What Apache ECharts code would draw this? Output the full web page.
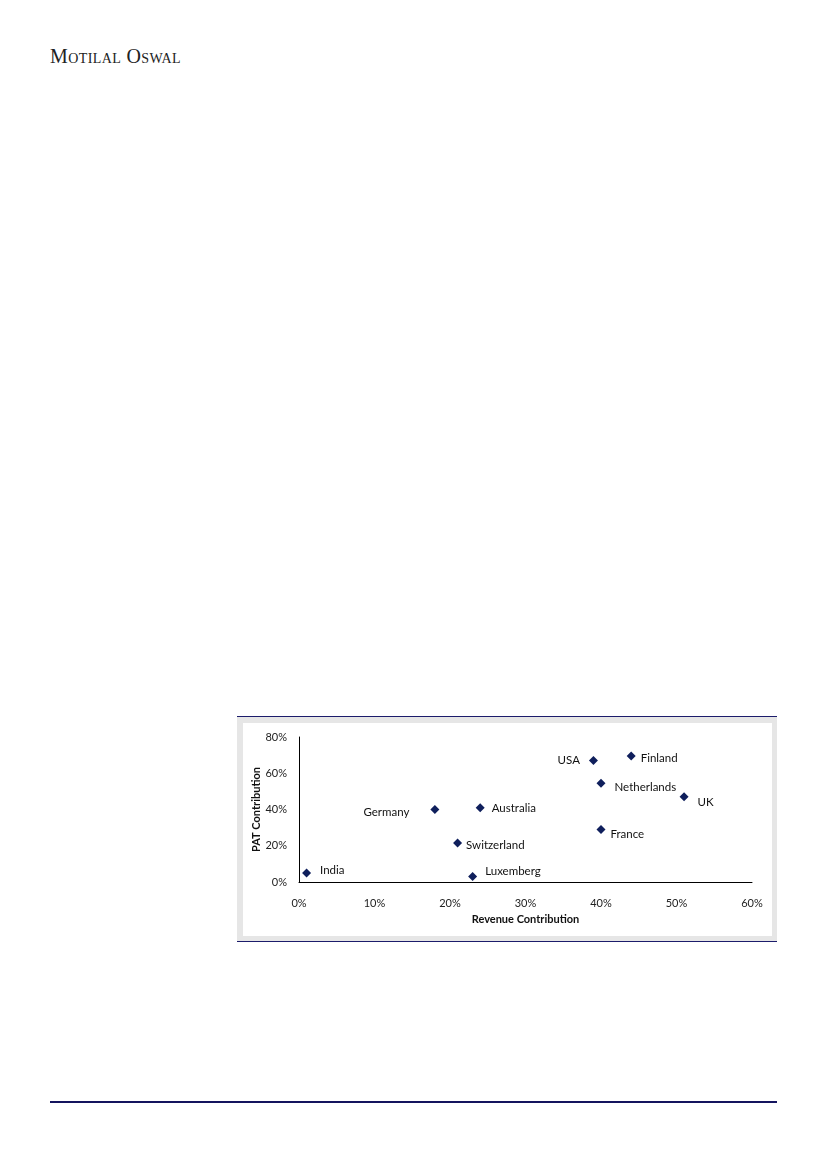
<!DOCTYPE html>
<html>
<head>
<meta charset="utf-8">
<script src="https://cdn.jsdelivr.net/npm/echarts@6/dist/echarts.min.js"></script>
<style>
  body { margin: 0; background: #fff; width: 826px; height: 1169px; position: relative; overflow: hidden; }
  .brand {
    position: absolute; left: 50px; top: 45px;
    font-family: "Liberation Serif", "DejaVu Serif", serif;
    font-variant: small-caps; font-size: 20px; letter-spacing: 0.4px; color: #222;
  }
  .frame {
    position: absolute; left: 237px; top: 716px; width: 540px; height: 224px;
    background: #e6e6e6; border-top: 1px solid #1c1c6b; border-bottom: 1px solid #1c1c6b;
  }
  #chart { position: absolute; left: 243px; top: 723px; width: 529px; height: 213px; background: #fff; }
  .footer { position: absolute; left: 50px; top: 1101px; width: 727px; height: 2px; background: #14145e; }
</style>
</head>
<body>
<div class="brand">Motilal Oswal</div>
<div class="frame"></div>
<div id="chart"></div>
<div class="footer"></div>
<script>
// revenue and PAT contribution by country
const countries = ['India', 'Germany', 'Australia', 'Switzerland', 'Luxemberg', 'USA', 'Finland', 'Netherlands', 'UK', 'France']
const revenue = [0.01, 0.18, 0.24, 0.21, 0.23, 0.39, 0.44, 0.40, 0.51, 0.40]
const pat = [0.05, 0.40, 0.41, 0.215, 0.03, 0.67, 0.695, 0.545, 0.47, 0.29]

// where each label sits next to its marker
const labelPos = {
  India: { position: 'right', offset: [2, -3] },
  Germany: { position: 'left', offset: [-14, 3] },
  Australia: { position: 'right', offset: [0, 1] },
  Switzerland: { position: 'right', offset: [-3, 2] },
  Luxemberg: { position: 'right', offset: [1, -5] },
  USA: { position: 'left', offset: [-2, 0] },
  Finland: { position: 'right', offset: [-2, 2] },
  Netherlands: { position: 'right', offset: [2, 4] },
  UK: { position: 'right', offset: [2, 5] },
  France: { position: 'right', offset: [-2, 5] }
}

const points = countries.map((c, i) => ({
  name: c,
  value: [revenue[i], pat[i]],
  label: labelPos[c]
}))

const pct = v => Math.round(v * 100) + '%'
const font = 'Lato, "Open Sans", sans-serif'

const chart = echarts.init(document.getElementById('chart'))
chart.setOption({
  animation: false,
  grid: { left: 56, right: 20, top: 14, bottom: 54, outerBoundsMode: 'none', containLabel: false },
  xAxis: {
    type: 'value', min: 0, max: 0.6, interval: 0.1,
    name: 'Revenue Contribution', nameLocation: 'middle', nameGap: 32,
    nameTextStyle: { fontFamily: font, fontWeight: 'bold', fontSize: 11, color: '#111' },
    axisLine: { show: true, lineStyle: { color: '#000', width: 1 } },
    axisTick: { show: false },
    splitLine: { show: false },
    axisLabel: { formatter: pct, margin: 16, fontFamily: font, fontSize: 11, color: '#222' }
  },
  yAxis: {
    type: 'value', min: 0, max: 0.8, interval: 0.2,
    name: 'PAT Contribution', nameLocation: 'middle', nameGap: 37, nameMoveOverlap: false,
    nameTextStyle: { fontFamily: font, fontWeight: 'bold', fontSize: 11, color: '#111' },
    axisLine: { show: true, lineStyle: { color: '#000', width: 1 } },
    axisTick: { show: false },
    splitLine: { show: false },
    axisLabel: { formatter: pct, margin: 12, fontFamily: font, fontSize: 11, color: '#222' }
  },
  series: [{
    type: 'scatter',
    symbol: 'diamond',
    symbolSize: 9,
    itemStyle: { color: '#0f1f5c', opacity: 1 },
    label: {
      show: true, distance: 7, formatter: p => p.name,
      fontFamily: font, fontSize: 11.5, color: '#111'
    },
    data: points
  }]
})
</script>
</body>
</html>
